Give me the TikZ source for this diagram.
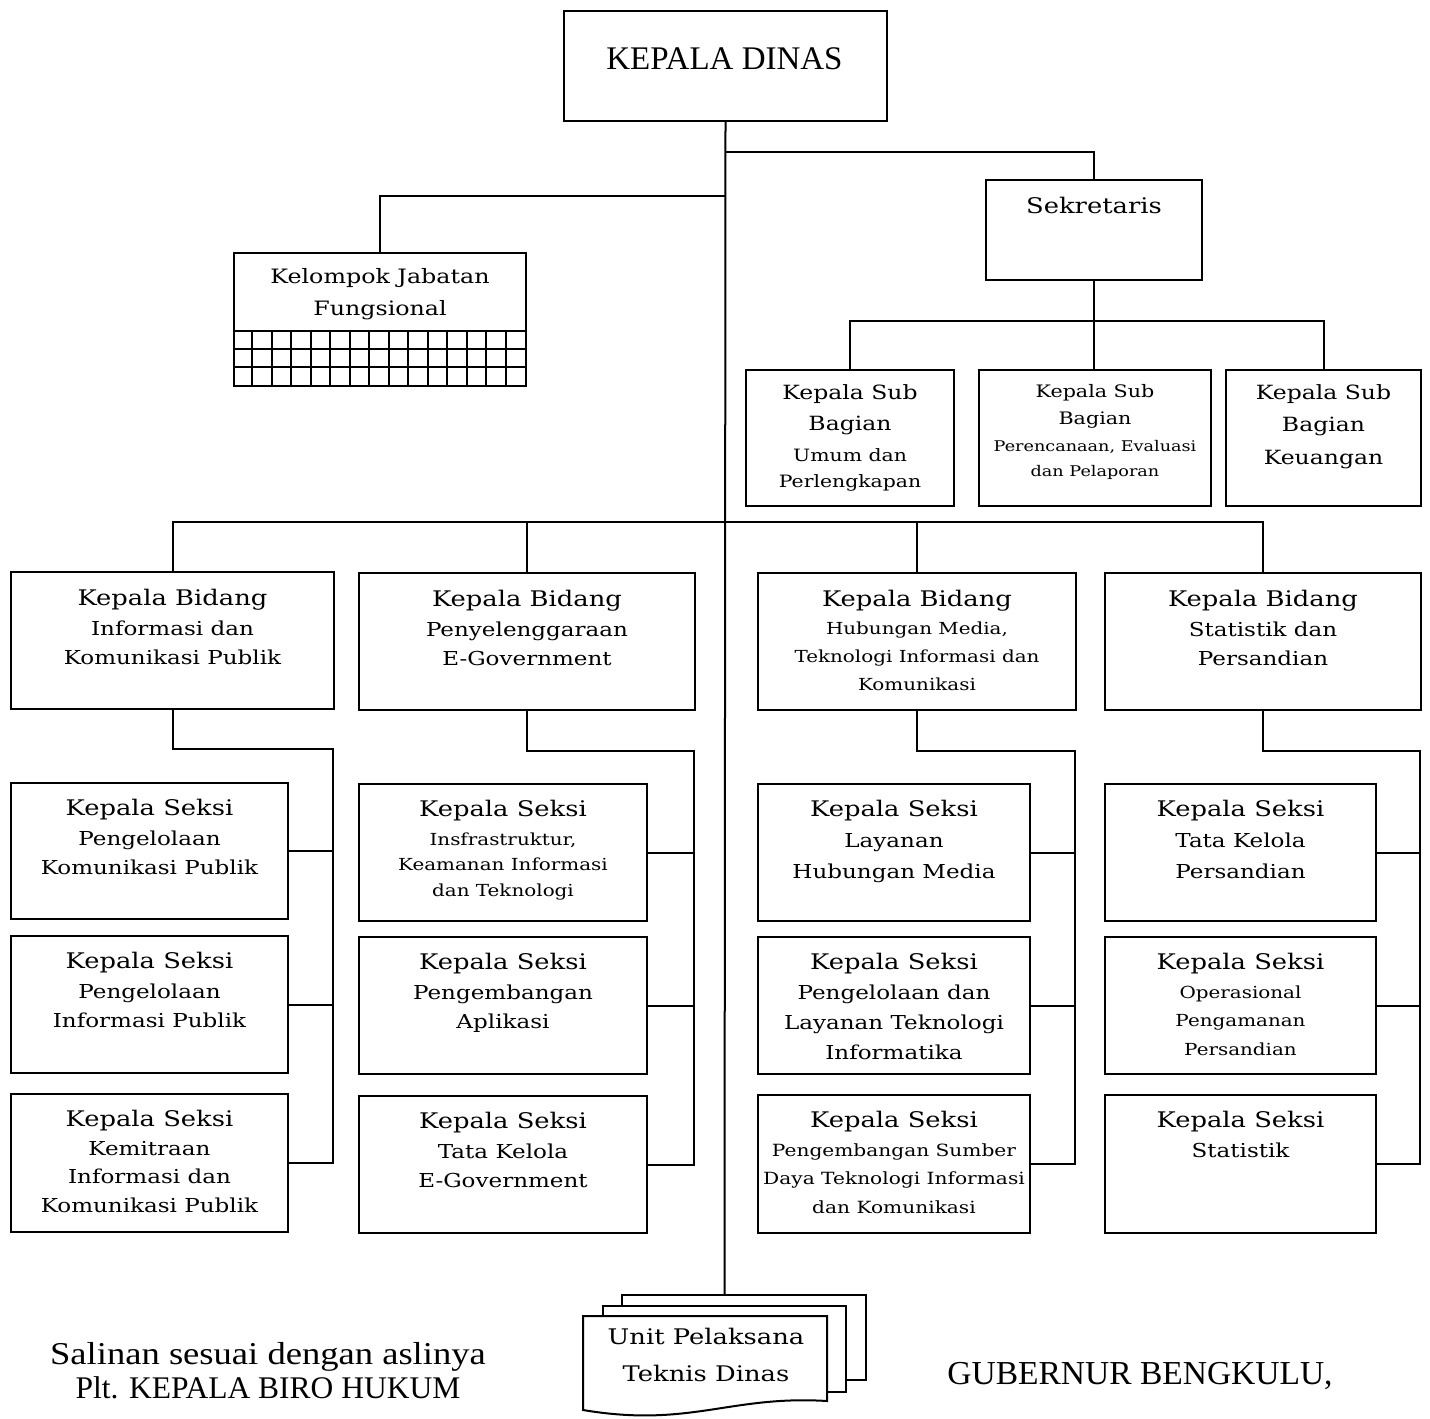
\documentclass[tikz,border=0pt]{standalone}
\usepackage{fontspec}
\setmainfont{DejaVu Serif}[FakeStretch=1.2]
\newfontfamily\tms{Liberation Serif}
\newfontfamily\tmsw{Liberation Serif}[FakeStretch=1.15]
\newcommand\fT{\fontsize{21.5}{29.5}\selectfont}
\newcommand\fN{\fontsize{19.2}{29.5}\selectfont}
\newcommand\fS{\fontsize{16.6}{27}\selectfont}
\newcommand\bx[5]{\node[box, minimum width={(#4)-(#2)}, minimum height={(#5)-(#3)}] (#1) at (#2,#3) {};}
\begin{document}
\begin{tikzpicture}[x=1pt,y=-1pt,
  box/.style={draw, line width=2pt, rectangle, inner sep=0pt, anchor=north west},
  ln/.style={line width=2pt},
  txt/.style={anchor=north, align=center, inner sep=0pt}]
\useasboundingbox (0,0) rectangle (1430,1419);

% ---- boxes
\bx{kd}{563}{10}{886}{120}
\bx{sek}{985}{179}{1201}{279}
\bx{kjf}{233}{252}{525}{385}
\bx{ksb1}{745}{369}{953}{505}
\bx{ksb2}{978}{369}{1210}{505}
\bx{ksb3}{1225}{369}{1420}{505}
\bx{b1}{10}{571}{333}{708}
\bx{b2}{358}{572}{694}{709}
\bx{b3}{757}{572}{1075}{709}
\bx{b4}{1104}{572}{1420}{709}
\bx{s11}{10}{782}{287}{918}
\bx{s12}{10}{935}{287}{1072}
\bx{s13}{10}{1093}{287}{1231}
\bx{s21}{358}{783}{646}{920}
\bx{s22}{358}{936}{646}{1073}
\bx{s23}{358}{1095}{646}{1232}
\bx{s31}{757}{783}{1029}{920}
\bx{s32}{757}{936}{1029}{1073}
\bx{s33}{757}{1094}{1029}{1232}
\bx{s41}{1104}{783}{1375}{920}
\bx{s42}{1104}{936}{1375}{1073}
\bx{s43}{1104}{1094}{1375}{1232}

% grid of Kelompok Jabatan Fungsional
\foreach \yy in {331,349,367} \draw[ln] (233,\yy) -- (525,\yy);
\foreach \i in {1,...,14} \draw[ln] ({233+\i*292/15},331) -- ({233+\i*292/15},385);

% ---- texts
\node[anchor=base, inner sep=0pt, font={\tms\fontsize{33}{38}\selectfont}] (kd-t) at (724.5,69) {KEPALA DINAS};
\node[txt, font=\fT] (sek-t) at ([yshift=-18pt]sek.north) {Sekretaris};
\node[txt, font={\fontsize{19.8}{32}\selectfont}] (kjf-t) at ([yshift=-16pt]kjf.north) {Kelompok Jabatan\\Fungsional};
\node[txt, font={\fontsize{17}{31}\selectfont}] (ksb1-t) at ([yshift=-15pt]ksb1.north)
  {{\fontsize{19.6}{31}\selectfont Kepala Sub}\\{\fontsize{19.6}{31}\selectfont Bagian}\\Umum dan\\[-5pt]Perlengkapan};
\node[txt, font={\fontsize{14.7}{27}\selectfont}] (ksb2-t) at ([yshift=-15pt]ksb2.north)
  {{\fontsize{17.2}{27}\selectfont Kepala Sub}\\{\fontsize{17.2}{27}\selectfont Bagian}\\Perencanaan, Evaluasi\\[-2pt]dan Pelaporan};
\node[txt, font={\fontsize{19.6}{32.5}\selectfont}] (ksb3-t) at ([yshift=-15pt]ksb3.north)
  {Kepala Sub\\Bagian\\Keuangan};

\node[txt, font=\fN] (b1-t) at ([yshift=-18pt]b1.north) {{\fT Kepala Bidang}\\Informasi dan\\Komunikasi Publik};
\node[txt, font=\fN] (b2-t) at ([yshift=-18pt]b2.north) {{\fT Kepala Bidang}\\Penyelenggaraan\\E-Government};
\node[txt, font={\fontsize{16.6}{28}\selectfont}] (b3-t) at ([yshift=-18pt]b3.north) {{\fT Kepala Bidang}\\Hubungan Media,\\Teknologi Informasi dan\\Komunikasi};
\node[txt, font=\fN] (b4-t) at ([yshift=-18pt]b4.north) {{\fT Kepala Bidang}\\Statistik dan\\Persandian};

\node[txt, font=\fN] (s11-t) at ([yshift=-17pt]s11.north) {{\fT Kepala Seksi}\\Pengelolaan\\Komunikasi Publik};
\node[txt, font=\fN] (s12-t) at ([yshift=-17pt]s12.north) {{\fT Kepala Seksi}\\Pengelolaan\\Informasi Publik};
\node[txt, font={\fontsize{19.2}{28.5}\selectfont}] (s13-t) at ([yshift=-17pt]s13.north) {{\fT Kepala Seksi}\\Kemitraan\\Informasi dan\\Komunikasi Publik};
\node[txt, font={\fontsize{16.6}{25.5}\selectfont}] (s21-t) at ([yshift=-17pt]s21.north) {{\fT Kepala Seksi}\\[3pt]Insfrastruktur,\\Keamanan Informasi\\dan Teknologi};
\node[txt, font=\fN] (s22-t) at ([yshift=-17pt]s22.north) {{\fT Kepala Seksi}\\Pengembangan\\Aplikasi};
\node[txt, font=\fN] (s23-t) at ([yshift=-17pt]s23.north) {{\fT Kepala Seksi}\\Tata Kelola\\E-Government};
\node[txt, font={\fontsize{19.2}{31}\selectfont}] (s31-t) at ([yshift=-17pt]s31.north) {{\fT Kepala Seksi}\\Layanan\\Hubungan Media};
\node[txt, font={\fontsize{19.2}{30}\selectfont}] (s32-t) at ([yshift=-17pt]s32.north) {{\fT Kepala Seksi}\\Pengelolaan dan\\Layanan Teknologi\\Informatika};
\node[txt, font={\fontsize{16.8}{28.5}\selectfont}] (s33-t) at ([yshift=-17pt]s33.north) {{\fT Kepala Seksi}\\Pengembangan Sumber\\Daya Teknologi Informasi\\dan Komunikasi};
\node[txt, font={\fontsize{19.2}{31}\selectfont}] (s41-t) at ([yshift=-17pt]s41.north) {{\fT Kepala Seksi}\\Tata Kelola\\Persandian};
\node[txt, font={\fontsize{16.6}{28.5}\selectfont}] (s42-t) at ([yshift=-17pt]s42.north) {{\fT Kepala Seksi}\\Operasional\\Pengamanan\\Persandian};
\node[txt, font=\fN] (s43-t) at ([yshift=-17pt]s43.north) {{\fT Kepala Seksi}\\Statistik};

% ---- connectors
\coordinate (uptTop) at (724.5,1295);
\draw[ln] (kd.south) -- (uptTop);
\coordinate (j1) at (724.5,152);
\draw[ln] (j1) -| (sek.north);
\coordinate (j2) at (724.5,196);
\draw[ln] (j2) -| (kjf.north);
\coordinate (j3) at (1093,321);
\draw[ln] (sek.south) -- (sek.south |- ksb2.north);
\draw[ln] (ksb1.north) |- (j3) -| (ksb3.north);
\coordinate (j4) at (724.5,522);
\draw[ln] (b1.north) |- (j4) -| (b4.north);
\draw[ln] (b2.north) -- (b2.north |- j4);
\draw[ln] (b3.north) -- (b3.north |- j4);

\coordinate (e1) at (333,749);
\draw[ln] (b1.south) |- (e1) -- (e1 |- s13.east) -- (s13.east);
\draw[ln] (s11.east) -- (s11.east -| e1);
\draw[ln] (s12.east) -- (s12.east -| e1);
\coordinate (e2) at (694,751);
\draw[ln] (b2.south) |- (e2) -- (e2 |- s23.east) -- (s23.east);
\draw[ln] (s21.east) -- (s21.east -| e2);
\draw[ln] (s22.east) -- (s22.east -| e2);
\coordinate (e3) at (1075,751);
\draw[ln] (b3.south) |- (e3) -- (e3 |- s33.east) -- (s33.east);
\draw[ln] (s31.east) -- (s31.east -| e3);
\draw[ln] (s32.east) -- (s32.east -| e3);
\coordinate (e4) at (1420,751);
\draw[ln] (b4.south) |- (e4) -- (e4 |- s43.east) -- (s43.east);
\draw[ln] (s41.east) -- (s41.east -| e4);
\draw[ln] (s42.east) -- (s42.east -| e4);

% ---- Unit Pelaksana Teknis Dinas (stacked documents)
\draw[ln, fill=white] (622,1295) rectangle (866,1380);
\draw[ln, fill=white] (603,1306) rectangle (846,1392);
\draw[ln, fill=white] (583,1316) -- (827,1316) -- (827,1401)
  .. controls (730,1395) and (690,1428) .. (583,1410) -- cycle;
\node[txt, font={\fontsize{21.5}{37}\selectfont}] (upt) at (706,1328) {Unit Pelaksana\\Teknis Dinas};

% ---- bottom texts
\node[anchor=base, inner sep=0pt, font={\tmsw\fontsize{31.8}{36}\selectfont}] (sal1) at (268,1364) {Salinan sesuai dengan aslinya};
\node[anchor=base, inner sep=0pt, font={\tms\fontsize{31.5}{36}\selectfont}] (sal2) at (268,1398) {Plt. KEPALA BIRO HUKUM};
\node[anchor=base, inner sep=0pt, font={\tms\fontsize{33.5}{36}\selectfont}] (gub) at (1140,1384) {GUBERNUR BENGKULU,};
\end{tikzpicture}
\end{document}
